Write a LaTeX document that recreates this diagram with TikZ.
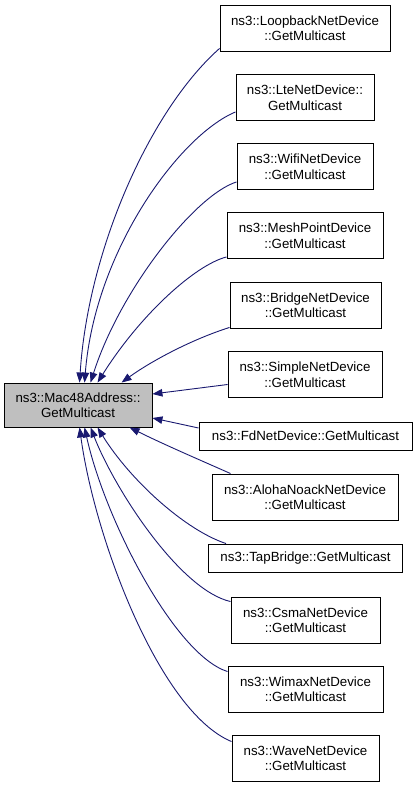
\documentclass[tikz,border=0pt]{standalone}
\usepackage{fontspec}
\setmainfont{Liberation Sans}
\usetikzlibrary{arrows.meta,calc}
\definecolor{edgeblue}{HTML}{191970}
\definecolor{maingrey}{HTML}{BFBFBF}
\begin{document}
\begin{tikzpicture}[x=1pt,y=-1pt,
  box/.style={draw=black, line width=0.9pt, fill=white, align=center,
    font=\fontsize{13.3}{15.5}\selectfont, inner sep=0pt, minimum height=46pt},
  onebox/.style={box, minimum height=28pt},
  edge/.style={draw=edgeblue, line width=0.9pt, -{Triangle[length=10pt,width=7.5pt]}}]
\useasboundingbox (0,0) rectangle (416,787);

\node[box, fill=maingrey, minimum width=148pt, minimum height=44pt] (main) at (78,405) {ns3::Mac48Address::\\GetMulticast};

\node[box, minimum width=170pt] (lb) at (305,28) {ns3::LoopbackNetDevice\\::GetMulticast};
\node[box, minimum width=138pt] (lte) at (305,97.5) {ns3::LteNetDevice::\\GetMulticast};
\node[box, minimum width=136pt] (wifi) at (305,166.5) {ns3::WifiNetDevice\\::GetMulticast};
\node[box, minimum width=156pt] (mesh) at (305,235.5) {ns3::MeshPointDevice\\::GetMulticast};
\node[box, minimum width=151pt] (bridge) at (305.5,305) {ns3::BridgeNetDevice\\::GetMulticast};
\node[box, minimum width=154pt] (simple) at (305,374.5) {ns3::SimpleNetDevice\\::GetMulticast};
\node[onebox, minimum width=213pt] (fd) at (305.5,436) {ns3::FdNetDevice::GetMulticast};
\node[box, minimum width=186pt] (aloha) at (305,497) {ns3::AlohaNoackNetDevice\\::GetMulticast};
\node[onebox, minimum width=194pt] (tap) at (305.5,558) {ns3::TapBridge::GetMulticast};
\node[box, minimum width=149pt] (csma) at (305.5,620) {ns3::CsmaNetDevice\\::GetMulticast};
\node[box, minimum width=155pt] (wimax) at (305.5,689) {ns3::WimaxNetDevice\\::GetMulticast};
\node[box, minimum width=147pt] (wave) at (305.5,758) {ns3::WaveNetDevice\\::GetMulticast};

\draw[edge] ($(lb.south west)+(0,-3)$) .. controls (150,110) and (88,250) .. ($(main.north west)+(76,0)$);
\draw[edge] ($(lte.south west)+(0,-9)$) .. controls (180,135) and (95,250) .. ($(main.north west)+(81,0)$);
\draw[edge] ($(wifi.south west)+(0,-8)$) .. controls (195,195) and (120,290) .. ($(main.north west)+(87,0)$);
\draw[edge] ($(mesh.south west)+(0,-2)$) .. controls (195,265) and (140,315) .. ($(main.north west)+(94,0)$);
\draw[edge] ($(bridge.south west)+(0,-1)$) .. controls (190,340) and (150,362) .. ($(main.north west)+(118,0)$);
\draw[edge] ($(simple.west)+(0,10)$) -- ($(main.east)+(0,-11)$);
\draw[edge] ($(fd.west)+(0,-8)$) -- ($(main.east)+(0,13)$);
\draw[edge] ($(aloha.north west)+(19,0)$) .. controls (200,460) and (165,445) .. ($(main.south west)+(126,0)$);
\draw[edge] ($(tap.north west)+(18,0)$) .. controls (185,530) and (130,480) .. ($(main.south west)+(94,0)$);
\draw[edge] ($(csma.north west)+(0,5)$) .. controls (180,590) and (115,490) .. ($(main.south west)+(87,0)$);
\draw[edge] ($(wimax.north west)+(0,6)$) .. controls (175,655) and (105,520) .. ($(main.south west)+(81,0)$);
\draw[edge] ($(wave.north west)+(0,7)$) .. controls (160,712) and (95,540) .. ($(main.south west)+(76,0)$);
\end{tikzpicture}
\end{document}
